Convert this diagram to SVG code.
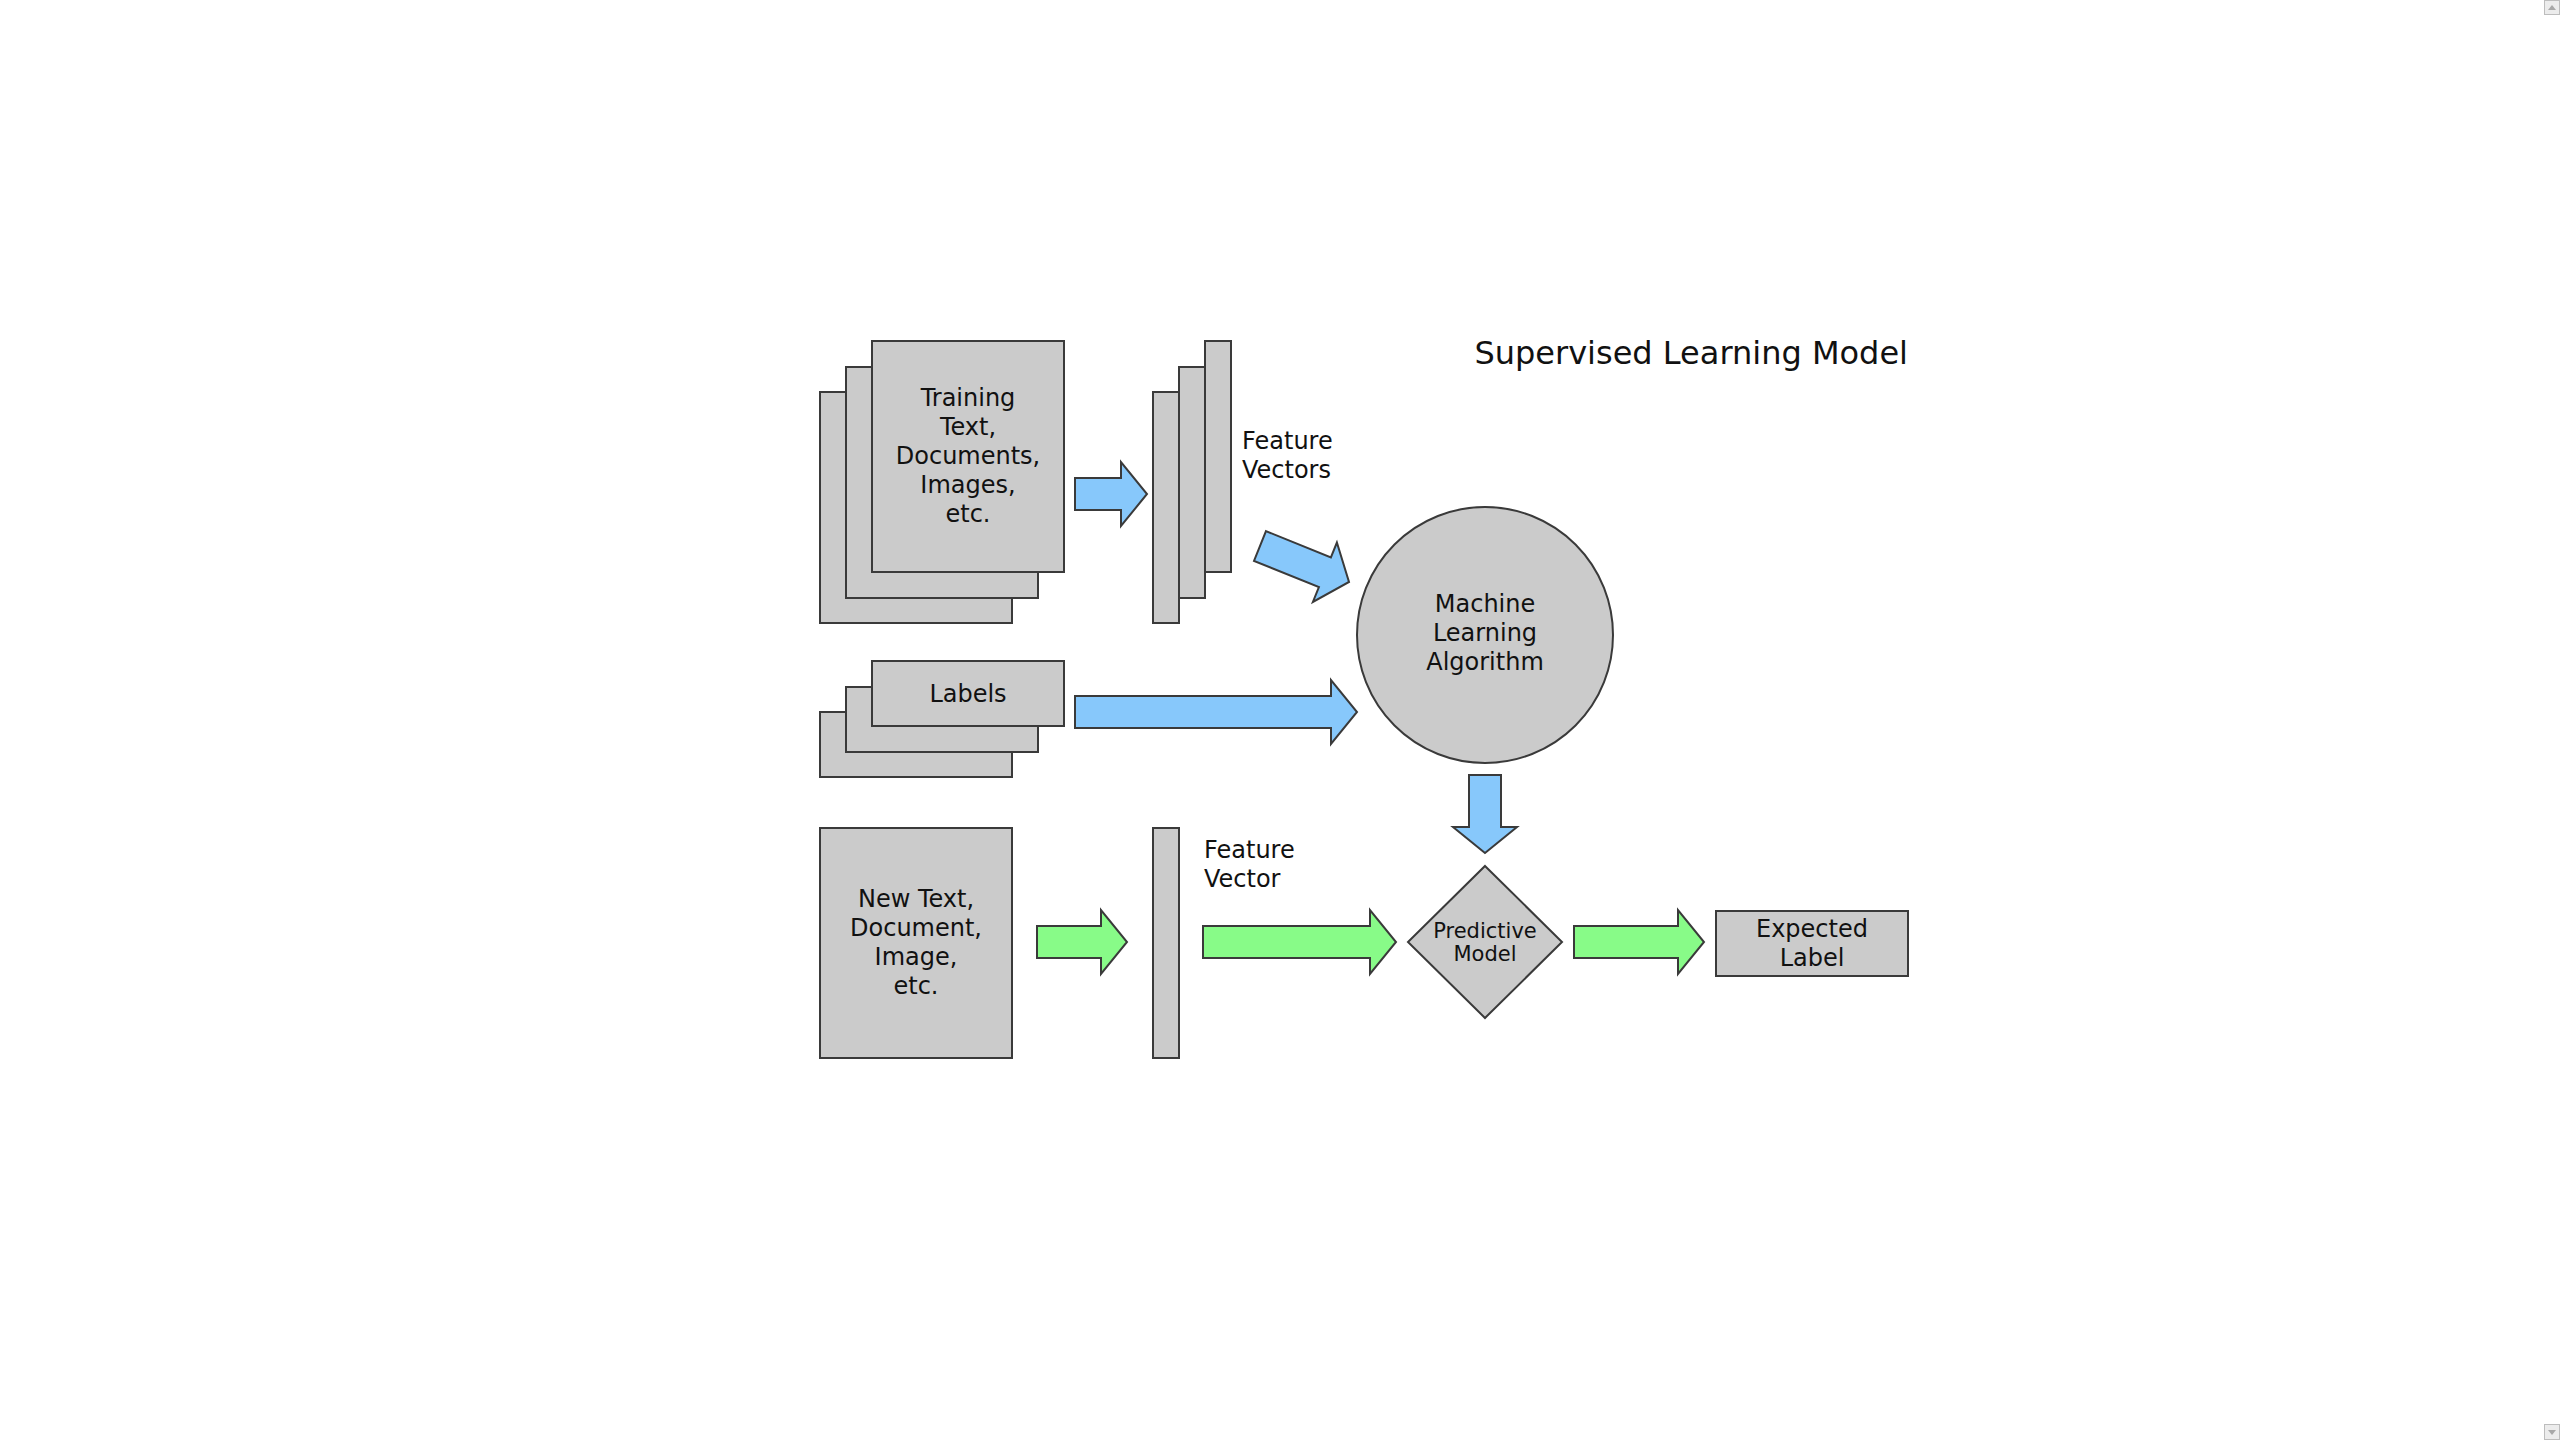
<svg xmlns="http://www.w3.org/2000/svg" width="2560" height="1440" viewBox="0 0 2560 1440">
<style>
.box{fill:#cbcbcb;stroke:#3a3a3a;stroke-width:2}
.blue{fill:#87c8fb;stroke:#3a3a3a;stroke-width:2;stroke-linejoin:miter}
.green{fill:#88fb88;stroke:#3a3a3a;stroke-width:2;stroke-linejoin:miter}
text{font-family:"DejaVu Sans","Liberation Sans",sans-serif;fill:#111}
.t{font-size:24px}
.c{text-anchor:middle}
.small{font-size:21px}
.title{font-size:32px;text-anchor:end}
.sb{fill:#ececec;stroke:#bdbdbd;stroke-width:1}
.sbt{fill:#a8a8a8}
</style>
<rect x="0" y="0" width="2560" height="1440" fill="#ffffff"/>
<text class="title" x="1908" y="364">Supervised Learning Model</text>

<g id="training">
<rect class="box" x="820" y="392" width="192" height="231"/>
<rect class="box" x="846" y="367" width="192" height="231"/>
<rect class="box" x="872" y="341" width="192" height="231"/>
<text class="t c" x="968" y="406">Training</text>
<text class="t c" x="968" y="435">Text,</text>
<text class="t c" x="968" y="464">Documents,</text>
<text class="t c" x="968" y="493">Images,</text>
<text class="t c" x="968" y="522">etc.</text>
</g>

<g id="feature-vectors">
<rect class="box" x="1153" y="392" width="26" height="231"/>
<rect class="box" x="1179" y="367" width="26" height="231"/>
<rect class="box" x="1205" y="341" width="26" height="231"/>
<text class="t" x="1242" y="449">Feature</text>
<text class="t" x="1242" y="478">Vectors</text>
</g>

<g id="labels">
<rect class="box" x="820" y="712" width="192" height="65"/>
<rect class="box" x="846" y="687" width="192" height="65"/>
<rect class="box" x="872" y="661" width="192" height="65"/>
<text class="t c" x="968" y="702">Labels</text>
</g>

<g id="algorithm">
<circle class="box" cx="1485" cy="635" r="128"/>
<text class="t c" x="1485" y="612">Machine</text>
<text class="t c" x="1485" y="641">Learning</text>
<text class="t c" x="1485" y="670">Algorithm</text>
</g>

<g id="new-text">
<rect class="box" x="820" y="828" width="192" height="230"/>
<text class="t c" x="916" y="907">New Text,</text>
<text class="t c" x="916" y="936">Document,</text>
<text class="t c" x="916" y="965">Image,</text>
<text class="t c" x="916" y="994">etc.</text>
</g>

<g id="feature-vector">
<rect class="box" x="1153" y="828" width="26" height="230"/>
<text class="t" x="1204" y="858">Feature</text>
<text class="t" x="1204" y="887">Vector</text>
</g>

<g id="predictive-model">
<polygon class="box" points="1485,866 1562,942 1485,1018 1408,942"/>
<text class="small c" x="1485" y="938">Predictive</text>
<text class="small c" x="1485" y="961">Model</text>
</g>

<g id="expected-label">
<rect class="box" x="1716" y="911" width="192" height="65"/>
<text class="t c" x="1812" y="937">Expected</text>
<text class="t c" x="1812" y="966">Label</text>
</g>

<g id="connectors">
<polygon class="blue" points="1075,478 1121,478 1121,462 1147,494 1121,526 1121,510 1075,510"/>
<polygon class="blue" transform="translate(1260,546) rotate(22)" points="0,-16 70,-16 70,-32 96,0 70,32 70,16 0,16"/>
<polygon class="blue" points="1075,696 1331,696 1331,680 1357,712 1331,744 1331,728 1075,728"/>
<polygon class="blue" points="1469,775 1501,775 1501,827 1517,827 1485,853 1453,827 1469,827"/>
<polygon class="green" points="1037,926 1101,926 1101,910 1127,942 1101,974 1101,958 1037,958"/>
<polygon class="green" points="1203,926 1370,926 1370,910 1396,942 1370,974 1370,958 1203,958"/>
<polygon class="green" points="1574,926 1678,926 1678,910 1704,942 1678,974 1678,958 1574,958"/>
</g>

<g id="scrollbar">
<rect class="sb" x="2544.5" y="0.5" width="15" height="14"/>
<polygon class="sbt" points="2548,10 2556,10 2552,5"/>
<rect class="sb" x="2544.5" y="1424.5" width="15" height="15"/>
<polygon class="sbt" points="2548,1430 2556,1430 2552,1435"/>
</g>
</svg>
